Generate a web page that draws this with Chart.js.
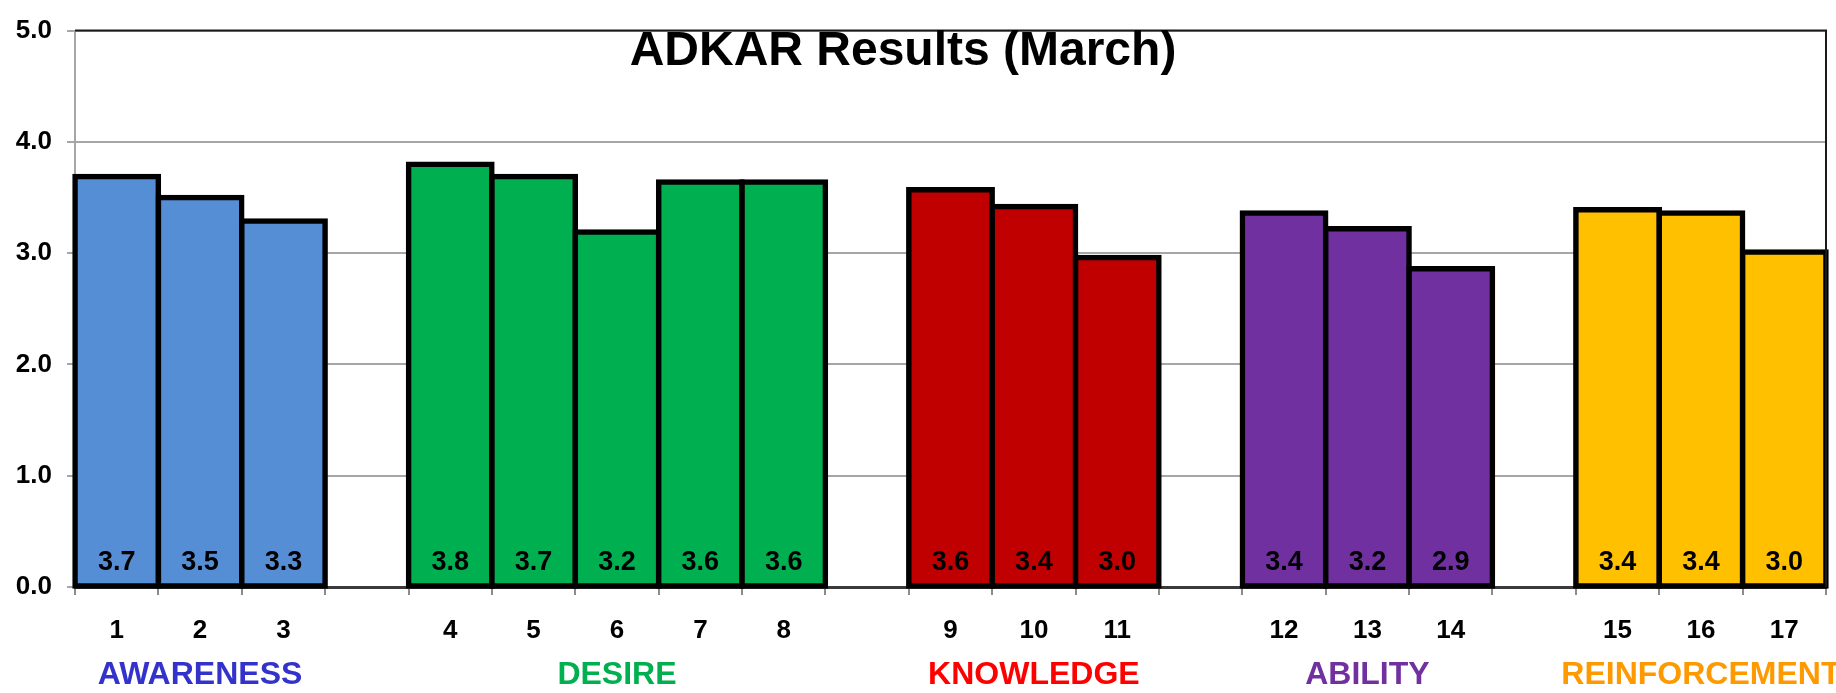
<!DOCTYPE html>
<html>
<head>
<meta charset="utf-8">
<script src="https://cdn.jsdelivr.net/npm/chart.js@4/dist/chart.umd.min.js"></script>
<style>
  html, body { margin: 0; padding: 0; background: #fff; }
  #wrap { width: 1836px; height: 693px; }
</style>
</head>
<body>
<div id="wrap"><canvas id="c" width="1836" height="693"></canvas></div>
<script>
const chartTitle = 'ADKAR Results (March)';
const groupNames = ['AWARENESS', 'DESIRE', 'KNOWLEDGE', 'ABILITY', 'REINFORCEMENT'];
const itemLabels = [['1','2','3'], ['4','5','6','7','8'], ['9','10','11'], ['12','13','14'], ['15','16','17']];
const awareness = [3.69, 3.50, 3.29];
const desire = [3.80, 3.69, 3.19, 3.64, 3.64];
const knowledge = [3.57, 3.42, 2.96];
const ability = [3.36, 3.22, 2.86];
const reinforcement = [3.39, 3.36, 3.01];
const barColors = ['#558ED5', '#00B050', '#C00000', '#7030A0', '#FFC000'];
const groupLabelColors = ['#3333CC', '#00B050', '#FF0000', '#7030A0', '#FF9900'];
const yTicks = [0, 1, 2, 3, 4, 5];

const groupValues = [awareness, desire, knowledge, ability, reinforcement];

// build category table with one empty slot between groups
const categories = [];
const values = [];
const colors = [];
const groupRanges = [];
groupValues.forEach((vals, g) => {
  if (g > 0) { categories.push(''); values.push(null); colors.push('rgba(0,0,0,0)'); }
  const start = categories.length;
  vals.forEach((v, i) => {
    categories.push(itemLabels[g][i]);
    values.push(v);
    colors.push(barColors[g]);
  });
  groupRanges.push([start, categories.length - 1]);
});

const FONT = '"Liberation Sans", Arial, sans-serif';

const overlay = {
  id: 'overlay',
  afterDatasetsDraw(chart) {
    const ctx = chart.ctx;
    const ys = chart.scales.y;
    const zero = ys.getPixelForValue(0);
    ctx.save();
    ctx.font = 'bold 27px ' + FONT;
    ctx.fillStyle = '#000';
    ctx.textAlign = 'center';
    ctx.textBaseline = 'alphabetic';
    const meta = chart.getDatasetMeta(0);
    meta.data.forEach((el, i) => {
      if (values[i] == null) return;
      ctx.fillText(values[i].toFixed(1), el.x, zero - 17);
    });
    ctx.restore();
  },
  afterDraw(chart) {
    const ctx = chart.ctx;
    const ca = chart.chartArea;
    const xs = chart.scales.x;
    ctx.save();
    ctx.strokeStyle = '#1a1a1a';
    ctx.lineWidth = 2;
    ctx.beginPath();
    ctx.moveTo(ca.left, ca.top);
    ctx.lineTo(ca.right, ca.top);
    ctx.lineTo(ca.right, ca.bottom);
    ctx.stroke();
    ctx.font = 'bold 48px ' + FONT;
    ctx.fillStyle = '#000';
    ctx.textAlign = 'center';
    ctx.textBaseline = 'alphabetic';
    ctx.fillText(chartTitle, 903, 65);
    ctx.font = 'bold 32px ' + FONT;
    groupRanges.forEach((r, g) => {
      const cx = (xs.getPixelForValue(r[0]) + xs.getPixelForValue(r[1])) / 2;
      ctx.fillStyle = groupLabelColors[g];
      ctx.fillText(groupNames[g], cx, 684);
    });
    ctx.restore();
  }
};

new Chart(document.getElementById('c'), {
  type: 'bar',
  data: {
    labels: categories,
    datasets: [{
      data: values,
      backgroundColor: colors,
      borderColor: '#000',
      borderWidth: 5.5,
      inflateAmount: 2.75,
      borderSkipped: false,
      barPercentage: 1,
      categoryPercentage: 1,
      clip: false
    }]
  },
  options: {
    responsive: false,
    animation: false,
    events: [],
    layout: { padding: { top: 22, right: 10, left: 0, bottom: 0 } },
    plugins: { legend: { display: false }, tooltip: { enabled: false }, title: { display: false } },
    scales: {
      x: {
        offset: true,
        grid: { offset: true, drawOnChartArea: false, drawTicks: true, tickLength: 8, color: '#8c8c8c', lineWidth: 2 },
        border: { display: true, color: '#3a3a3a', width: 3 },
        ticks: {
          autoSkip: false, maxRotation: 0, minRotation: 0, padding: 20,
          color: '#000', font: { family: FONT, size: 26, weight: 'bold' }
        },
        afterFit(s) { s.height = 106; }
      },
      y: {
        min: 0, max: 5,
        afterBuildTicks(s) { s.ticks = yTicks.map(v => ({ value: v })); },
        grid: { color: '#a6a6a6', lineWidth: 2, tickLength: 8, drawTicks: true },
        border: { display: true, color: '#a6a6a6', width: 2 },
        ticks: {
          padding: 15,
          color: '#000',
          font: { family: FONT, size: 26, weight: 'bold' },
          callback: v => Number(v).toFixed(1)
        },
        afterFit(s) { s.width = 75; }
      }
    }
  },
  plugins: [overlay]
});
</script>
</body>
</html>
